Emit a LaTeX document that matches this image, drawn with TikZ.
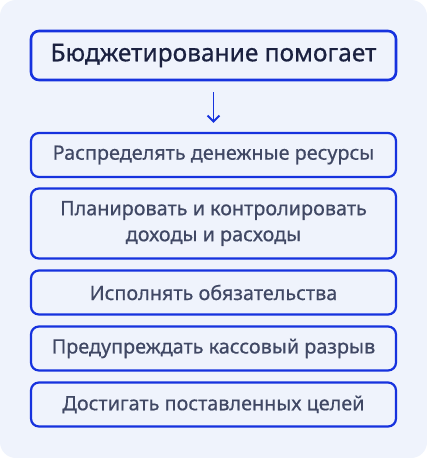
\documentclass[tikz,border=0pt]{standalone}
\usepackage{fontspec}
\setmainfont{Noto Sans}
\newfontfamily\mediumfont{Noto Sans}[FakeBold=0.6]
\usetikzlibrary{arrows.meta}

\begin{document}
\begin{tikzpicture}[x=1pt, y=-1pt, >={Straight Barb[length=6pt,width=12pt]}]

\definecolor{panelbg}{RGB}{239, 243, 252}
\definecolor{boxblue}{RGB}{22, 50, 222}
\definecolor{titleink}{RGB}{27, 33, 64}
\definecolor{itemink}{RGB}{64, 72, 100}

% Canvas and panel
\useasboundingbox (0,0) rectangle (427,458);
\fill[white] (0,0) rectangle (427,458);
\fill[panelbg, rounded corners=16pt] (0,0) rectangle (427,458);

\tikzset{
    head box/.style={
        draw=boxblue, line width=2.6pt, fill=panelbg,
        rectangle, rounded corners=8pt,
        minimum width=365pt, minimum height=49pt,
        text=titleink, font=\mediumfont\fontsize{24.5}{28}\selectfont, align=center
    },
    item box/.style={
        draw=boxblue, line width=2.2pt, fill=panelbg,
        rectangle, rounded corners=8pt,
        minimum width=365pt, minimum height=#1,
        text=itemink, font=\mediumfont\fontsize{19.8}{26}\selectfont, align=center
    },
    item box/.default=44pt,
    link/.style={
        draw=boxblue, line width=1.9pt, ->
    }
}

% HEADING
\node[head box] (head) at (213.5, 55.5) {Бюджетирование помогает};

% ITEMS
\node[item box] (distribute) at (213.5, 155) {Распределять денежные ресурсы};
\node[item box=70pt] (plan) at (213.5, 223.5) {Планировать и контролировать\\доходы и расходы};
\node[item box] (fulfil) at (213.5, 292.5) {Исполнять обязательства};
\node[item box] (prevent) at (213.5, 348.5) {Предупреждать кассовый разрыв};
\node[item box] (achieve) at (213.5, 404.5) {Достигать поставленных целей};

% Arrow from heading to the list
\draw[link, shorten <=11pt, shorten >=9pt] (head) -- (distribute);

\end{tikzpicture}
\end{document}
